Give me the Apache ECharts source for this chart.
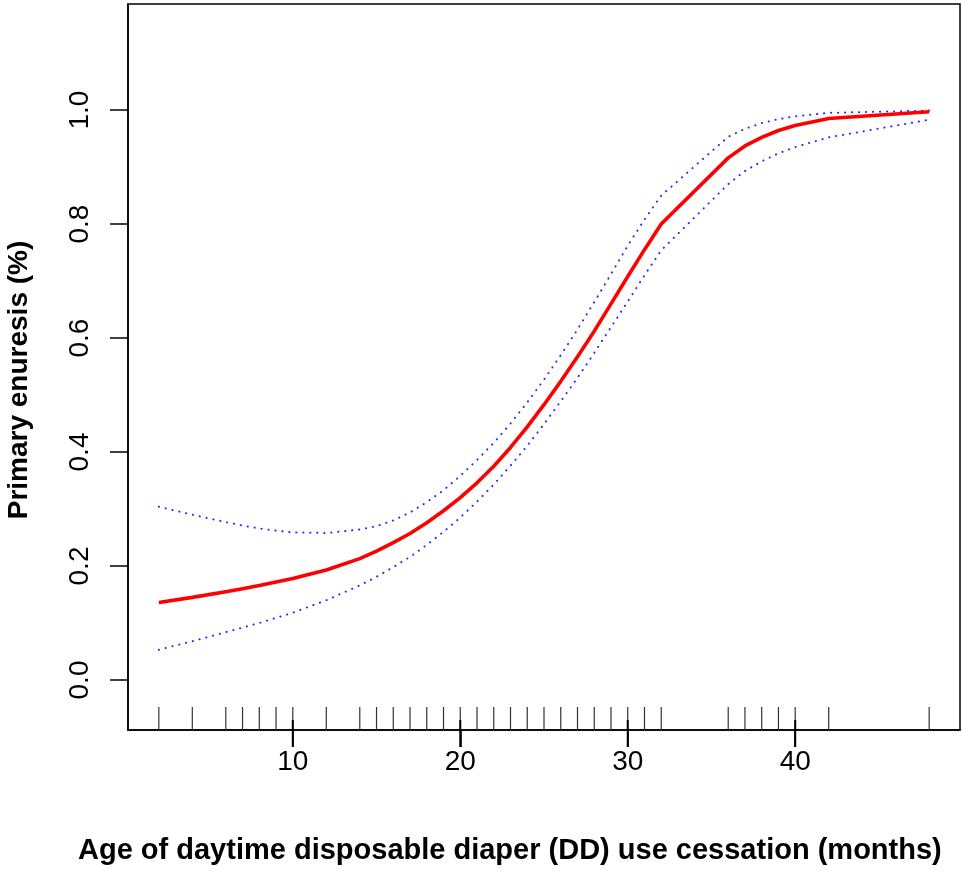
<!DOCTYPE html>
<html>
<head>
<meta charset="utf-8">
<script src="https://cdn.jsdelivr.net/npm/echarts@6/dist/echarts.min.js"></script>
<style>html,body{margin:0;padding:0;background:#fff;}#c{width:962px;height:871px;}</style>
</head>
<body>
<div id="c"></div>
<script>
// Observed ages (months) — also the rug marks
const ages = [2,4,6,7,8,9,10,12,14,15,16,17,18,19,20,21,22,23,24,25,26,27,28,29,30,31,32,36,37,38,39,40,42,48];
// Fitted probability
const fitted = [0.136,0.145,0.155,0.160,0.166,0.172,0.178,0.193,0.213,0.226,0.241,0.257,0.276,0.297,0.320,0.346,0.375,0.408,0.444,0.483,0.524,0.567,0.612,0.660,0.708,0.755,0.800,0.916,0.937,0.952,0.964,0.973,0.985,0.997];
// Upper confidence bound
const upper = [0.304,0.290,0.277,0.271,0.266,0.262,0.259,0.258,0.264,0.270,0.280,0.294,0.312,0.333,0.358,0.386,0.416,0.450,0.487,0.527,0.570,0.615,0.663,0.712,0.762,0.808,0.850,0.953,0.967,0.977,0.984,0.989,0.995,0.999];
// Lower confidence bound
const lower = [0.053,0.068,0.084,0.092,0.100,0.109,0.118,0.140,0.166,0.181,0.198,0.216,0.237,0.260,0.285,0.313,0.343,0.376,0.411,0.449,0.489,0.530,0.574,0.619,0.664,0.710,0.754,0.870,0.893,0.910,0.924,0.935,0.952,0.983];
// Tick labels
const xTicks = [10,20,30,40];
const yTicks = [0,0.2,0.4,0.6,0.8,1.0];

const X_MIN = 0.16, X_MAX = 49.84;
const Y_MIN = -0.0877, Y_MAX = 1.186;

const pair = (ys) => ages.map((a, i) => [a, ys[i]]);
const font = '"Liberation Sans", Arial, Helvetica, sans-serif';
const dotted = {color: '#2525ff', width: 2, type: [0.2, 6.8], cap: 'round'};

const chart = echarts.init(document.getElementById('c'), null, {renderer: 'canvas'});
chart.setOption({
  animation: false,
  backgroundColor: '#fff',
  grid: {left: 128, right: 2, top: 4, bottom: 141, show: true, borderColor: '#000', borderWidth: 1.5,
    backgroundColor: 'transparent', containLabel: false, outerBoundsMode: 'none'},
  xAxis: [{
    type: 'value', min: X_MIN, max: X_MAX,
    splitLine: {show: false},
    axisLine: {show: true, onZero: false, lineStyle: {color: '#000', width: 1.5}},
    axisTick: {show: true, customValues: xTicks, length: 17, inside: false, lineStyle: {color: '#000', width: 1.5}},
    axisLabel: {customValues: xTicks, color: '#000', fontSize: 28, fontFamily: font, margin: 18},
  }],
  yAxis: {
    type: 'value', min: Y_MIN, max: Y_MAX,
    splitLine: {show: false},
    axisLine: {show: true, onZero: false, lineStyle: {color: '#000', width: 1.5}},
    axisTick: {show: true, customValues: yTicks, length: 18, lineStyle: {color: '#000', width: 1.5}},
    axisLabel: {customValues: yTicks, rotate: 90, color: '#000', fontSize: 28, fontFamily: font, margin: 34,
      formatter: (v) => Number(v).toFixed(1)},
    name: 'Primary enuresis (%)', nameLocation: 'middle', nameGap: 95,
    nameTextStyle: {color: '#000', fontSize: 28, fontWeight: 'bold', fontFamily: font, padding: [0, 26, 0, 0]}
  },
  series: [
    {type: 'line', data: pair(upper), showSymbol: false, symbol: 'none', lineStyle: dotted, z: 3},
    {type: 'line', data: pair(lower), showSymbol: false, symbol: 'none', lineStyle: dotted, z: 3},
    {type: 'line', data: pair(fitted), showSymbol: false, symbol: 'none',
      lineStyle: {color: '#ff0000', width: 3.6}, z: 4},
    {type: 'custom', data: ages.map(a => [a]),
      renderItem: (params, api) => {
        const p = api.coord([api.value(0), Y_MIN]);
        return {type: 'line', shape: {x1: p[0], y1: p[1], x2: p[0], y2: p[1] - 23},
          style: {stroke: '#333', lineWidth: 1.2}};
      }, z: 2}
  ]
});

// Major x ticks (outward), positioned through the axis scale
const tickGraphics = xTicks.map(t => {
  const p = chart.convertToPixel({gridIndex: 0}, [t, Y_MIN]);
  return {type: 'rect', z: 100, shape: {x: p[0] - 1, y: p[1] - 10, width: 2, height: 27},
    style: {fill: '#000000'}};
});
chart.setOption({
  graphic: [
    {type: 'text', left: 78, top: 836,
      style: {text: 'Age of daytime disposable diaper (DD) use cessation (months)', fill: '#000',
        font: 'bold 29px ' + font}},
    ...tickGraphics
  ]
});
</script>
</body>
</html>
